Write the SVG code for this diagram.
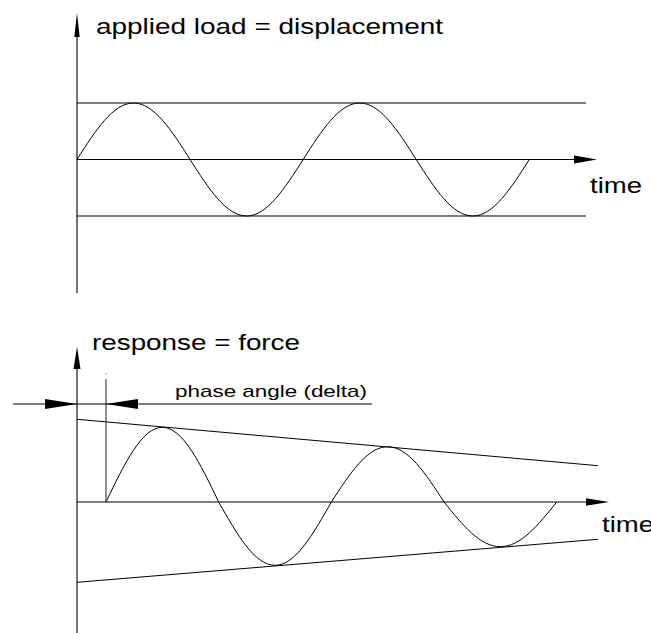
<svg xmlns="http://www.w3.org/2000/svg" width="651" height="633" viewBox="0 0 651 633">
<style>
.ln{stroke:#000;stroke-width:1.1;fill:none}
.cv{stroke:#000;stroke-width:1;fill:none}
.ah{fill:#000;stroke:none}
.t{font-family:"Liberation Sans",Arial,sans-serif;fill:#000}
</style>
<rect width="651" height="633" fill="#fff"/>
<g id="top-chart">
  <line class="ln" x1="77" y1="30" x2="77" y2="293"/>
  <polygon class="ah" points="77,13 79.7,37 74.3,37"/>
  <line class="ln" x1="77" y1="103" x2="586" y2="103"/>
  <line class="ln" x1="77" y1="159.5" x2="580" y2="159.5"/>
  <polygon class="ah" points="597,159.5 574,155.5 574,163.5"/>
  <line class="ln" x1="77" y1="216" x2="586" y2="216"/>
  <path class="cv" d="M77,159.5 C95.44,130.56 113.08,103 133.54,103 C154,103 171.64,130.56 190.08,159.5 C208.52,188.44 226.16,216 246.62,216 C267.08,216 284.72,188.44 303.16,159.5 C321.6,130.56 339.24,103 359.7,103 C380.16,103 397.8,130.56 416.24,159.5 C434.68,188.44 452.32,216 472.78,216 C493.24,216 510.88,188.44 529.32,159.5"/>
  <text class="t" x="96" y="34" font-size="22" textLength="347" lengthAdjust="spacingAndGlyphs">applied load = displacement</text>
  <text class="t" x="590" y="193" font-size="22" textLength="52" lengthAdjust="spacingAndGlyphs">time</text>
</g>
<g id="bottom-chart">
  <line class="ln" x1="77" y1="360" x2="77" y2="633"/>
  <polygon class="ah" points="77,347 80.5,369 73.5,369"/>
  <line class="ln" x1="77" y1="502" x2="590" y2="502"/>
  <polygon class="ah" points="609,502 586,498.3 586,505.7"/>
  <line class="cv" x1="77" y1="419.3" x2="598" y2="465.7"/>
  <line class="cv" x1="77" y1="582.3" x2="598" y2="539.3"/>
  <path class="cv" d="M106,502 C124.38,463.73 141.95,427.3 162.34,427.3 C182.73,427.3 200.31,463.73 218.68,502 C237.06,534.43 254.63,565.3 275.02,565.3 C295.41,565.3 312.99,534.43 331.36,502 C349.74,473.67 367.31,446.7 387.7,446.7 C408.09,446.7 425.67,473.67 444.04,502 C462.42,524.9 479.99,546.7 500.38,546.7 C520.77,546.7 538.35,524.9 556.72,502"/>
  <text class="t" x="92" y="350" font-size="22" textLength="208" lengthAdjust="spacingAndGlyphs">response = force</text>
  <text class="t" x="602" y="532" font-size="22" textLength="52" lengthAdjust="spacingAndGlyphs">time</text>
</g>
<g id="phase-dimension">
  <line x1="106" y1="379" x2="106" y2="502" stroke="#333" stroke-width="1.1"/>
  <rect x="105.5" y="373.5" width="1" height="1" fill="#333"/>
  <line class="ln" x1="13" y1="404" x2="372" y2="404"/>
  <polygon class="ah" points="77,404 45,399 45,409"/>
  <polygon class="ah" points="106,404 138,399 138,409"/>
  <text class="t" x="175" y="397" font-size="17" textLength="192" lengthAdjust="spacingAndGlyphs">phase angle (delta)</text>
</g>
</svg>
